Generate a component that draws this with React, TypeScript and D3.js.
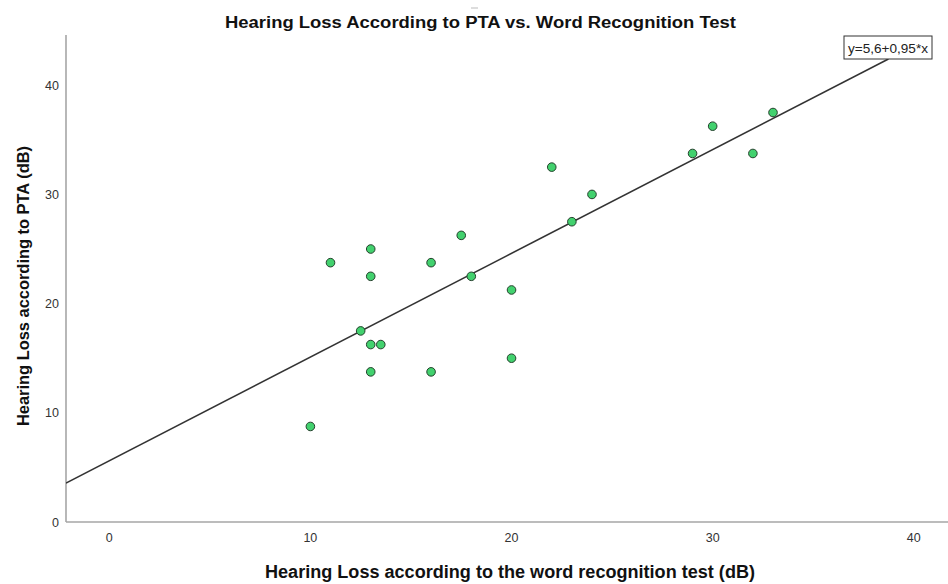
import React from "react";
import * as d3 from "d3";

const wordRecognition = [10, 11, 12.5, 13, 13, 13, 13.5, 13, 16, 16, 17.5, 18, 20, 20, 22, 23, 24, 29, 30, 32, 33];
const ptaLoss = [8.75, 23.75, 17.5, 25, 22.5, 16.25, 16.25, 13.75, 23.75, 13.75, 26.25, 22.5, 21.25, 15, 32.5, 27.5, 30, 33.75, 36.25, 33.75, 37.5];
const xTicks = [0, 10, 20, 30, 40];
const yTicks = [0, 10, 20, 30, 40];
const intercept = 5.6;
const slope = 0.95;
const title = "Hearing Loss According to PTA vs. Word Recognition Test";
const xTitle = "Hearing Loss according to the word recognition test (dB)";
const yTitle = "Hearing Loss according to PTA (dB)";
const equationLabel = "y=5,6+0,95*x";

const W = 948;
const H = 584;
const left = 66;
const right = 948;
const top = 35;
const bottom = 522;
const boxX = 844;
const boxY = 36;
const boxW = 88;
const boxH = 23;

export default function App() {
  const x = d3.scaleLinear().domain([-2.15, 41.7]).range([left, right]);
  const y = d3.scaleLinear().domain([0, 44.6]).range([bottom, top]);
  const x0 = x.domain()[0];
  // the fit line stops where it meets the bottom of the equation box
  const xEnd = (y.invert(boxY + boxH) - intercept) / slope;
  const line = d3
    .line<number>()
    .x((d) => x(d))
    .y((d) => y(intercept + slope * d));
  const font = "'Liberation Sans', Arial, sans-serif";

  return (
    <svg
      width={W}
      height={H}
      style={{ position: "absolute", left: 0, top: 0, background: "#fff" }}
      fontFamily={font}
    >
      <defs>
        <clipPath id="plotClip">
          <rect x={left} y={top} width={right - left} height={bottom - top} />
        </clipPath>
      </defs>
      <rect x={0} y={0} width={W} height={H} fill="#fff" />
      <line x1={471} x2={478} y1={8} y2={8} stroke="#bbb" strokeWidth={1} />
      <text
        x={480.5}
        y={28}
        textAnchor="middle"
        fontSize={16}
        fontWeight="bold"
        fill="#111"
        textLength={511}
        lengthAdjust="spacingAndGlyphs"
      >
        {title}
      </text>

      {/* axes */}
      <line x1={left} x2={left} y1={top} y2={bottom} stroke="#a6a6a6" strokeWidth={1.6} />
      <line x1={left} x2={right} y1={bottom} y2={bottom} stroke="#a6a6a6" strokeWidth={1.6} />

      {xTicks.map((t) => (
        <text key={"x" + t} x={x(t)} y={541.5} textAnchor="middle" fontSize={12.5} fill="#333">
          {t}
        </text>
      ))}
      {yTicks.map((t) => (
        <text key={"y" + t} x={59} y={y(t) + 4.5} textAnchor="end" fontSize={12.5} fill="#333">
          {t}
        </text>
      ))}

      <text
        x={265}
        y={578}
        fontSize={18}
        fontWeight="bold"
        fill="#111"
        textLength={490}
        lengthAdjust="spacingAndGlyphs"
      >
        {xTitle}
      </text>
      <text
        transform="translate(29,286) rotate(-90)"
        textAnchor="middle"
        fontSize={17}
        fontWeight="bold"
        fill="#111"
        textLength={280}
        lengthAdjust="spacingAndGlyphs"
      >
        {yTitle}
      </text>

      <g clipPath="url(#plotClip)">
        <path d={line([x0, xEnd]) || ""} fill="none" stroke="#333" strokeWidth={1.5} />
      </g>

      {wordRecognition.map((wx, i) => (
        <circle
          key={i}
          cx={x(wx)}
          cy={y(ptaLoss[i])}
          r={4.3}
          fill="#42d16e"
          stroke="#24402c"
          strokeWidth={1}
        />
      ))}

      <rect x={boxX} y={boxY} width={boxW} height={boxH} fill="#fff" stroke="#333" strokeWidth={1} />
      <text
        x={boxX + 4}
        y={boxY + 16.5}
        fontSize={13}
        fill="#222"
        textLength={80}
        lengthAdjust="spacingAndGlyphs"
      >
        {equationLabel}
      </text>
    </svg>
  );
}
